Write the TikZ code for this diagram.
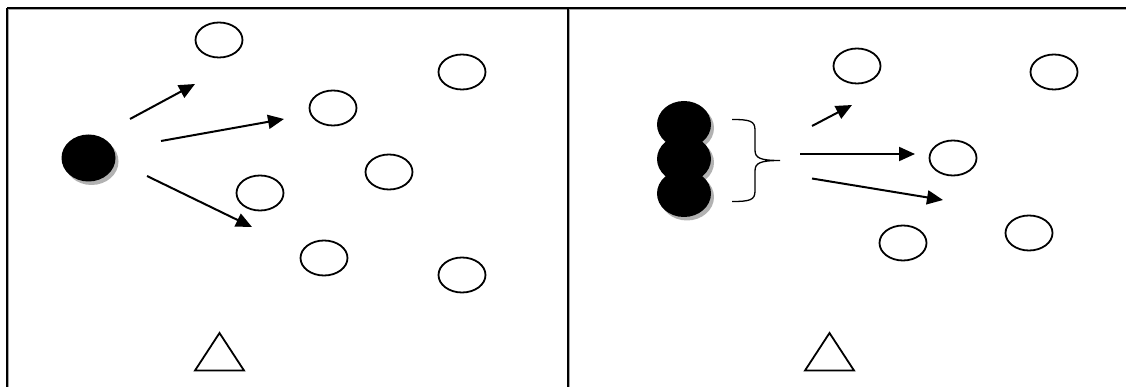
\documentclass[tikz,border=0pt]{standalone}
\usetikzlibrary{shapes.geometric,arrows.meta}
\begin{document}
\begin{tikzpicture}[x=1pt,y=-1pt,
  frame/.style={line width=2pt,draw=black},
  frameshadow/.style={line width=1.5pt,draw=black!35},
  openell/.style={ellipse,draw=black,line width=1.8pt,fill=white,minimum width=47pt,minimum height=35pt,inner sep=0pt},
  blackell/.style={ellipse,fill=black,minimum width=54pt,minimum height=47pt,inner sep=0pt},
  shadowell/.style={ellipse,fill=black!30,minimum width=54pt,minimum height=47pt,inner sep=0pt},
  arr/.style={line width=2pt,-{Triangle[length=16pt,width=14pt]}},
  tri/.style={line width=1.8pt,draw=black},
  bracestyle/.style={line width=1.3pt,draw=black}]
\useasboundingbox (0,0) rectangle (1126,387);
% frame
\draw[frameshadow] (8.5,9.5) -- (1126,9.5);
\draw[frameshadow] (8.5,9.5) -- (8.5,387);
\draw[frameshadow] (569.5,9.5) -- (569.5,387);
\draw[frame] (7,8) -- (1126,8);
\draw[frame] (7,8) -- (7,387);
\draw[frame] (568,8) -- (568,387);
% left panel
\node[shadowell] (lshadow) at (91.5,161.5) {};
\node[blackell] (lsrc) at (88.5,158) {};
\node[openell] (e1) at (219,40) {};
\node[openell] (e2) at (462,72) {};
\node[openell] (e3) at (333,108) {};
\node[openell] (e4) at (389,172) {};
\node[openell] (e5) at (260,193) {};
\node[openell] (e6) at (324,258) {};
\node[openell] (e7) at (462,275) {};
\coordinate (a1s) at (130,119);
\coordinate (a1e) at (195,84);
\coordinate (a2s) at (161,141);
\coordinate (a2e) at (284,119);
\coordinate (a3s) at (147,176);
\coordinate (a3e) at (252,227);
\draw[arr] (a1s) -- (a1e);
\draw[arr] (a2s) -- (a2e);
\draw[arr] (a3s) -- (a3e);
\coordinate (t1a) at (219.5,333);
\coordinate (t1b) at (244,370.5);
\coordinate (t1c) at (195,370.5);
\draw[tri] (t1a) -- (t1b) -- (t1c) -- cycle;
% right panel
\node[shadowell] (s1) at (687,128) {};
\node[blackell] (b1) at (684,124.5) {};
\node[shadowell] (s2) at (687,162.5) {};
\node[blackell] (b2) at (684,159) {};
\node[shadowell] (s3) at (687,197) {};
\node[blackell] (b3) at (684,193.5) {};
\coordinate (brtop) at (732,119.5);
\coordinate (brtip) at (780,160.5);
\coordinate (brbot) at (732,201.5);
\draw[bracestyle] (brtop) .. controls (750,119.5) and (755,121) .. (755,130)
  -- (755,150) .. controls (755,158) and (760,160.5) .. (brtip)
  .. controls (760,160.5) and (755,163) .. (755,171)
  -- (755,191) .. controls (755,200) and (750,201.5) .. (brbot);
\node[openell] (f1) at (857,66) {};
\node[openell] (f2) at (1054,72) {};
\node[openell] (f3) at (953,158) {};
\node[openell] (f4) at (903,243) {};
\node[openell] (f5) at (1029,233) {};
\coordinate (b1s) at (812,126);
\coordinate (b1e) at (852,105);
\coordinate (b2s) at (800,154);
\coordinate (b2e) at (915,154);
\coordinate (b3s) at (812,178.5);
\coordinate (b3e) at (943,200);
\draw[arr] (b1s) -- (b1e);
\draw[arr] (b2s) -- (b2e);
\draw[arr] (b3s) -- (b3e);
\coordinate (t2a) at (829.5,333);
\coordinate (t2b) at (854,370.5);
\coordinate (t2c) at (805,370.5);
\draw[tri] (t2a) -- (t2b) -- (t2c) -- cycle;
\end{tikzpicture}
\end{document}
